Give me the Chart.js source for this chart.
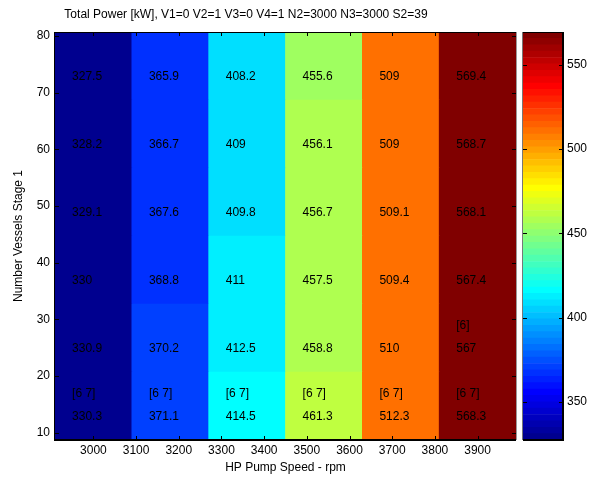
<!DOCTYPE html>
<html>
<head>
<meta charset="utf-8">
<title>Total Power</title>
<script src="https://cdn.jsdelivr.net/npm/chart.js@4.4.1/dist/chart.umd.min.js"></script>
<style>
    html, body { margin: 0; padding: 0; background: #fff; }
    #wrap { position: relative; width: 589px; height: 480px; }
    #wrap canvas { position: absolute; left: 0; top: 0; }
</style>
</head>
<body>
<div id="wrap">
    <canvas id="mainChart" width="589" height="480"></canvas>
    <canvas id="barChart" width="589" height="480"></canvas>
</div>
<script>
"use strict";

// HP pump speed (rpm) at the middle of each column
var speeds = [3000, 3180, 3360, 3540, 3720, 3900];
// vessels (stage 1) at the middle of each row, bottom to top
var vessels = [14.7, 26.7, 38.7, 50.7, 62.7, 74.7];

// total power in kW for each speed column, rows bottom to top
var power3000 = [330.3, 330.9, 330, 329.1, 328.2, 327.5];
var power3180 = [371.1, 370.2, 368.8, 367.6, 366.7, 365.9];
var power3360 = [414.5, 412.5, 411, 409.8, 409, 408.2];
var power3540 = [461.3, 458.8, 457.5, 456.7, 456.1, 455.6];
var power3720 = [512.3, 510, 509.4, 509.1, 509, 509];
var power3900 = [568.3, 567, 567.4, 568.1, 568.7, 569.4];
var powerColumns = [power3000, power3180, power3360, power3540, power3720, power3900];

// extra labels written above the value in the two bottom rows
var labelsRow1 = ["[6 7]", "[6 7]", "[6 7]", "[6 7]", "[6 7]", "[6 7]"];
var labelsRow2 = ["", "", "", "", "", "[6]"];

var xTicks = [3000, 3100, 3200, 3300, 3400, 3500, 3600, 3700, 3800, 3900];
var yTicks = [10, 20, 30, 40, 50, 60, 70, 80];
var barTicks = [350, 400, 450, 500, 550];

var titleText = "Total Power [kW], V1=0 V2=1 V3=0 V4=1 N2=3000 N3=3000 S2=39";
var FONT = "'Liberation Sans', Arial, Helvetica, sans-serif";

var allPower = [].concat.apply([], powerColumns);
var cmin = Math.min.apply(null, allPower);
var cmax = Math.max.apply(null, allPower);
var halfX = (speeds[1] - speeds[0]) / 2;
var halfY = (vessels[1] - vessels[0]) / 2;

// same as matlab jet(64), i goes 1..64
function jetColor(i) {
    var r = i <= 24 ? 0 : i <= 40 ? (i - 24) / 16 : i <= 56 ? 1 : (72 - i) / 16;
    var g = i <= 8 ? 0 : i <= 24 ? (i - 8) / 16 : i <= 40 ? 1 : i <= 56 ? (56 - i) / 16 : 0;
    var b = i <= 8 ? (i + 8) / 16 : i <= 24 ? 1 : i <= 40 ? (40 - i) / 16 : 0;
    return "rgb(" + Math.round(r * 255) + "," + Math.round(g * 255) + "," + Math.round(b * 255) + ")";
}

function valueColor(v) {
    var idx = Math.floor((v - cmin) / (cmax - cmin) * 64) + 1;
    return jetColor(Math.max(1, Math.min(64, idx)));
}

function fixedTicks(list) {
    return function (scale) {
        scale.ticks = list.map(function (v) { return { value: v }; });
    };
}

function plainLabel(v) {
    return String(v);
}

var cellDatasets = vessels.map(function (v, i) {
    return {
        label: "row " + i,
        data: speeds.map(function () { return [v - halfY, v + halfY]; }),
        backgroundColor: speeds.map(function (s, j) { return valueColor(powerColumns[j][i]); }),
        borderWidth: 0,
        grouped: false,
        barPercentage: 1,
        categoryPercentage: 1,
        xAxisID: "x",
        yAxisID: "y"
    };
});

var cellText = {
    id: "cellText",
    afterDatasetsDraw: function (chart) {
        var ctx = chart.ctx;
        var xs = chart.scales.xs;
        var y = chart.scales.y;
        ctx.save();
        ctx.font = "12px " + FONT;
        ctx.fillStyle = "#000";
        ctx.textAlign = "left";
        ctx.textBaseline = "middle";
        speeds.forEach(function (s, j) {
            var px = xs.getPixelForValue(s - 50);
            vessels.forEach(function (v, i) {
                ctx.fillText(String(powerColumns[j][i]), px, y.getPixelForValue(v) + 10.5);
            });
            if (labelsRow1[j]) {
                ctx.fillText(labelsRow1[j], px, y.getPixelForValue(vessels[0]) - 12.5);
            }
            if (labelsRow2[j]) {
                ctx.fillText(labelsRow2[j], px, y.getPixelForValue(vessels[1]) - 12.5);
            }
        });
        ctx.restore();
    }
};

var axesBox = {
    id: "axesBox",
    afterDraw: function (chart) {
        var ctx = chart.ctx;
        var a = chart.chartArea;
        var xs = chart.scales.xs;
        var y = chart.scales.y;
        ctx.save();
        ctx.strokeStyle = "#000";
        ctx.lineWidth = 1;
        ctx.beginPath();
        xTicks.forEach(function (v) {
            var px = Math.round(xs.getPixelForValue(v)) + 0.5;
            ctx.moveTo(px, a.bottom);
            ctx.lineTo(px, a.bottom - 4);
            ctx.moveTo(px, a.top);
            ctx.lineTo(px, a.top + 4);
        });
        yTicks.forEach(function (v) {
            var py = Math.round(y.getPixelForValue(v)) + 0.5;
            ctx.moveTo(a.left, py);
            ctx.lineTo(a.left + 4, py);
            ctx.moveTo(a.right, py);
            ctx.lineTo(a.right - 4, py);
        });
        ctx.moveTo(a.left - 0.5, a.top + 0.5);
        ctx.lineTo(a.right, a.top + 0.5);
        ctx.moveTo(a.left - 0.5, a.top);
        ctx.lineTo(a.left - 0.5, a.bottom);
        ctx.stroke();

        ctx.lineWidth = 2;
        ctx.beginPath();
        ctx.moveTo(a.left - 1, a.bottom);
        ctx.lineTo(a.right, a.bottom);
        ctx.stroke();

        ctx.strokeStyle = "#9a9a9a";
        ctx.lineWidth = 1;
        ctx.beginPath();
        ctx.moveTo(a.right + 0.5, a.top);
        ctx.lineTo(a.right + 0.5, a.bottom);
        ctx.stroke();

        ctx.font = "12px " + FONT;
        ctx.fillStyle = "#000";
        ctx.textAlign = "center";
        ctx.textBaseline = "middle";
        ctx.fillText(titleText, 246, 15);
        ctx.restore();
    }
};

var mainChart = new Chart(document.getElementById("mainChart").getContext("2d"), {
    type: "bar",
    data: {
        labels: speeds.map(String),
        datasets: cellDatasets
    },
    options: {
        responsive: false,
        animation: false,
        devicePixelRatio: 1,
        events: [],
        layout: { padding: { left: 0, top: 32, right: 73, bottom: 0 } },
        plugins: {
            legend: { display: false },
            tooltip: { enabled: false },
            title: { display: false }
        },
        scales: {
            x: { type: "category", display: false, offset: true },
            xs: {
                type: "linear",
                position: "bottom",
                offset: false,
                min: speeds[0] - halfX,
                max: speeds[speeds.length - 1] + halfX,
                afterBuildTicks: fixedTicks(xTicks),
                afterFit: function (scale) { scale.height = 40; },
                grid: { display: false, drawTicks: false, offset: false },
                border: { display: false },
                ticks: {
                    callback: plainLabel,
                    color: "#000",
                    padding: 3,
                    maxRotation: 0,
                    autoSkip: false,
                    font: { family: FONT, size: 12 }
                },
                title: {
                    display: true,
                    text: "HP Pump Speed - rpm",
                    color: "#000",
                    padding: { top: 0, bottom: 5 },
                    font: { family: FONT, size: 12 }
                }
            },
            y: {
                type: "linear",
                min: vessels[0] - halfY,
                max: vessels[vessels.length - 1] + halfY,
                afterBuildTicks: fixedTicks(yTicks),
                afterFit: function (scale) { scale.width = 55; },
                grid: { display: false, drawTicks: false },
                border: { display: false },
                ticks: {
                    callback: plainLabel,
                    color: "#000",
                    padding: 5,
                    autoSkip: false,
                    font: { family: FONT, size: 12 }
                },
                title: {
                    display: true,
                    text: "Number Vessels Stage 1",
                    color: "#000",
                    padding: { top: 11, bottom: 0 },
                    font: { family: FONT, size: 12 }
                }
            }
        }
    },
    plugins: [cellText, axesBox]
});

// colour bar, 64 bands of the jet map from cmin to cmax
var bandStep = (cmax - cmin) / 64;
var bandDatasets = [];
for (var k = 0; k < 64; k++) {
    bandDatasets.push({
        data: [[cmin + k * bandStep, cmin + (k + 1) * bandStep]],
        backgroundColor: jetColor(k + 1),
        borderWidth: 0,
        grouped: false,
        barPercentage: 1,
        categoryPercentage: 1
    });
}

var barBox = {
    id: "barBox",
    afterDraw: function (chart) {
        var ctx = chart.ctx;
        var a = chart.chartArea;
        var y = chart.scales.y;
        ctx.save();
        ctx.strokeStyle = "#000";
        ctx.lineWidth = 1;
        ctx.beginPath();
        barTicks.forEach(function (v) {
            var py = Math.round(y.getPixelForValue(v)) + 0.5;
            ctx.moveTo(a.left, py);
            ctx.lineTo(a.left + 4, py);
            ctx.moveTo(a.right, py);
            ctx.lineTo(a.right - 4, py);
        });
        ctx.moveTo(a.left, a.top + 0.5);
        ctx.lineTo(a.right, a.top + 0.5);
        ctx.stroke();

        ctx.lineWidth = 2;
        ctx.beginPath();
        ctx.moveTo(a.right, a.top);
        ctx.lineTo(a.right, a.bottom);
        ctx.moveTo(a.left, a.bottom);
        ctx.lineTo(a.right + 1, a.bottom);
        ctx.stroke();

        ctx.strokeStyle = "#777";
        ctx.lineWidth = 1;
        ctx.beginPath();
        ctx.moveTo(a.left - 0.5, a.top);
        ctx.lineTo(a.left - 0.5, a.bottom);
        ctx.stroke();
        ctx.restore();
    }
};

var barChart = new Chart(document.getElementById("barChart").getContext("2d"), {
    type: "bar",
    data: {
        labels: [""],
        datasets: bandDatasets
    },
    options: {
        responsive: false,
        animation: false,
        devicePixelRatio: 1,
        events: [],
        layout: { padding: { left: 523, top: 32, right: 0, bottom: 40 } },
        plugins: {
            legend: { display: false },
            tooltip: { enabled: false }
        },
        scales: {
            x: { type: "category", display: false },
            y: {
                type: "linear",
                position: "right",
                min: cmin,
                max: cmax,
                afterBuildTicks: fixedTicks(barTicks),
                afterFit: function (scale) { scale.width = 26; },
                grid: { display: false, drawTicks: false },
                border: { display: false },
                ticks: {
                    callback: plainLabel,
                    color: "#000",
                    padding: 4,
                    autoSkip: false,
                    font: { family: FONT, size: 12 }
                }
            }
        }
    },
    plugins: [barBox]
});
</script>
</body>
</html>
